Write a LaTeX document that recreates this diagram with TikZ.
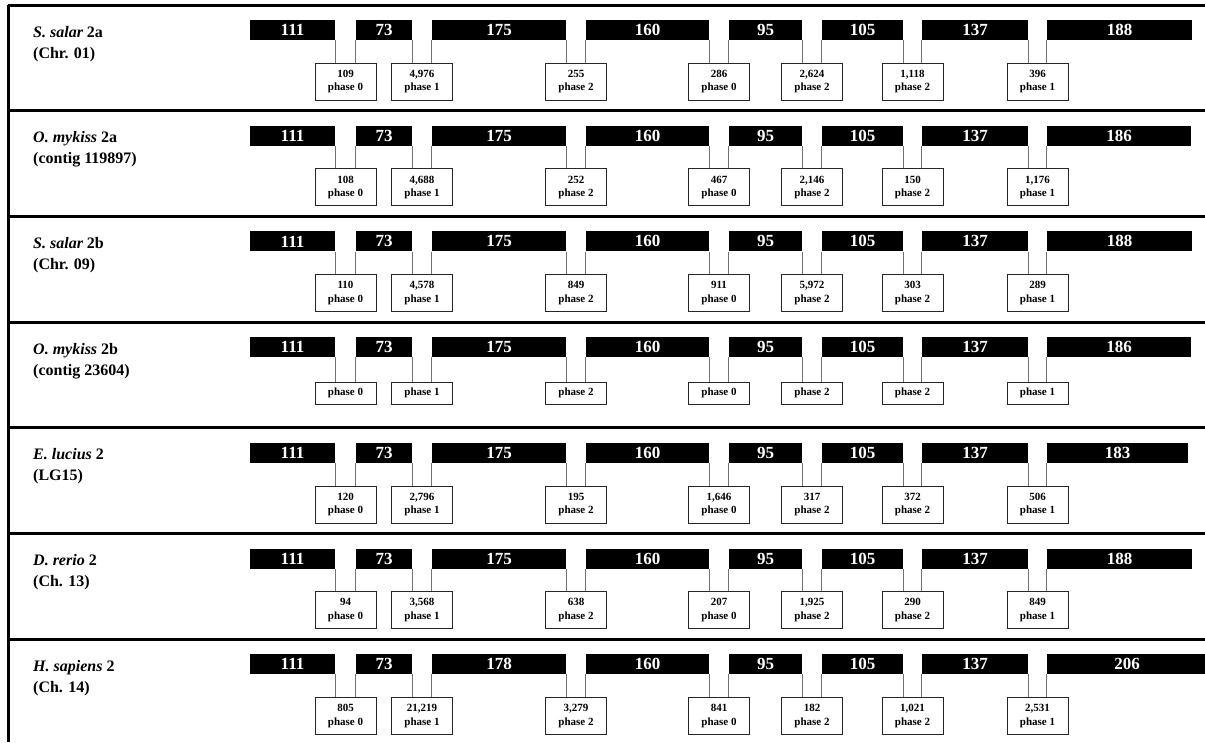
\documentclass[tikz,border=0pt]{standalone}
\usepackage{fontspec}
\setmainfont{Liberation Serif}
\usetikzlibrary{calc}
\newcommand{\generow}[8]{%
  \draw[sep] (8,#2) -- (1205,#2);
  \node[lbl] (lab#1a) at (33,#2+32) {#3};
  \node[lbl] (lab#1b) at (33,#2+53) {#4};
  \foreach \xs/\xe/\ex [count=\i] in {#5} {
    \pgfmathsetmacro\w{\xe-\xs}
    \node[exon, minimum width=\w pt] (e#1-\i) at ({(\xs+\xe)/2},#2+25) {\ex};
  }
  \foreach \t [count=\i] in {#6} {
    \pgfmathtruncatemacro\j{\i+1}
    \node[#7] (b#1-\i) at ($(e#1-\i.south east)!0.5!(e#1-\j.south west)+(0,#8)$) {\t};
    \draw[conn] (e#1-\i.south east) -- (e#1-\i.south east |- b#1-\i.north);
    \draw[conn] (e#1-\j.south west) -- (e#1-\j.south west |- b#1-\i.north);
  }
}
\begin{document}
\begin{tikzpicture}[x=1pt,y=-1pt,
  exon/.style={fill=black,draw=none,inner sep=0pt,minimum height=20pt,text=white,font=\fontsize{17}{17}\selectfont\bfseries},
  ibox/.style={draw=black!85,line width=0.9pt,fill=white,inner sep=0pt,minimum width=61pt,minimum height=37pt,align=center,font=\fontsize{11}{13.5}\selectfont\bfseries},
  pbox/.style={ibox,minimum height=22pt},
  conn/.style={draw=black!55,line width=0.9pt},
  sep/.style={line width=3pt,draw=black},
  lbl/.style={anchor=base west,inner sep=0pt,font=\fontsize{16}{20}\selectfont\bfseries}]
\useasboundingbox (0,0) rectangle (1205,742);
\fill[white] (0,0) rectangle (1205,742);
\draw[sep] (8,5) -- (8,742);

\generow{1}{5}{{\itshape S. salar} 2a}{(Chr. 01)}
 {250/335/111,356/412/73,432/566/175,586/709/160,729/802/95,822/903/105,922/1028/137,1047/1192/188}
 {{109\\phase 0},{4,976\\phase 1},{255\\phase 2},{286\\phase 0},{2,624\\phase 2},{1,118\\phase 2},{396\\phase 1}}
 {ibox}{41.5}

\generow{2}{110.7}{{\itshape O. mykiss} 2a}{(contig 119897)}
 {250/335/111,356/412/73,432/566/175,586/709/160,729/802/95,822/903/105,922/1028/137,1047/1191/186}
 {{108\\phase 0},{4,688\\phase 1},{252\\phase 2},{467\\phase 0},{2,146\\phase 2},{150\\phase 2},{1,176\\phase 1}}
 {ibox}{41.5}

\generow{3}{216.4}{{\itshape S. salar} 2b}{(Chr. 09)}
 {250/335/111,356/412/73,432/566/175,586/709/160,729/802/95,822/903/105,922/1028/137,1047/1192/188}
 {{110\\phase 0},{4,578\\phase 1},{849\\phase 2},{911\\phase 0},{5,972\\phase 2},{303\\phase 2},{289\\phase 1}}
 {ibox}{41.5}

\generow{4}{322.1}{{\itshape O. mykiss} 2b}{(contig 23604)}
 {250/335/111,356/412/73,432/566/175,586/709/160,729/802/95,822/903/105,922/1028/137,1047/1191/186}
 {{phase 0},{phase 1},{phase 2},{phase 0},{phase 2},{phase 2},{phase 1}}
 {pbox}{36}

\generow{5}{427.8}{{\itshape E. lucius} 2}{(LG15)}
 {250/335/111,356/412/73,432/566/175,586/709/160,729/802/95,822/903/105,922/1028/137,1047/1188/183}
 {{120\\phase 0},{2,796\\phase 1},{195\\phase 2},{1,646\\phase 0},{317\\phase 2},{372\\phase 2},{506\\phase 1}}
 {ibox}{41.5}

\generow{6}{533.5}{{\itshape D. rerio} 2}{(Ch. 13)}
 {250/335/111,356/412/73,432/566/175,586/709/160,729/802/95,822/903/105,922/1028/137,1047/1192/188}
 {{94\\phase 0},{3,568\\phase 1},{638\\phase 2},{207\\phase 0},{1,925\\phase 2},{290\\phase 2},{849\\phase 1}}
 {ibox}{41.5}

\generow{7}{639.2}{{\itshape H. sapiens} 2}{(Ch. 14)}
 {250/335/111,356/412/73,432/566/178,586/709/160,729/802/95,822/903/105,922/1028/137,1047/1207/206}
 {{805\\phase 0},{21,219\\phase 1},{3,279\\phase 2},{841\\phase 0},{182\\phase 2},{1,021\\phase 2},{2,531\\phase 1}}
 {ibox}{41.5}
\end{tikzpicture}
\end{document}
